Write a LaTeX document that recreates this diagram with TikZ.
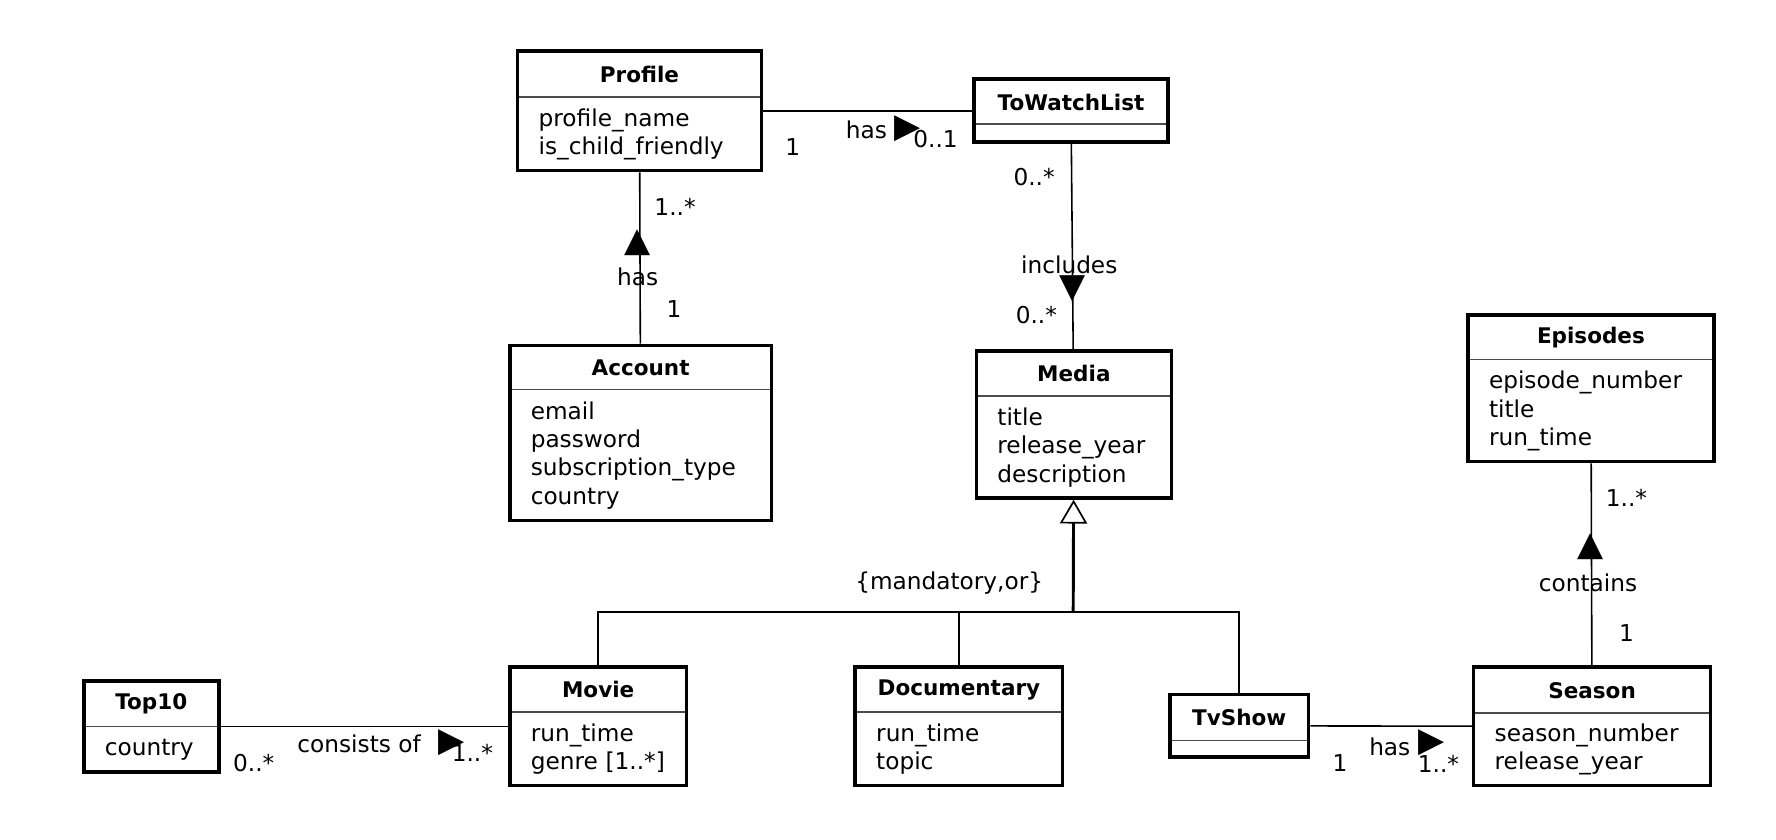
\documentclass[tikz,border=0pt]{standalone}
\usepackage{fontspec}
\setmainfont{DejaVu Sans}
\usetikzlibrary{positioning,fit,arrows.meta}

\begin{document}
\begin{tikzpicture}[
    x=1pt, y=1pt,
    classhead/.style={draw=black!70, line width=1.2pt, anchor=north west, inner sep=0pt, font=\fontsize{19}{23}\selectfont\bfseries},
    classbody/.style={inner xsep=18pt, inner ysep=0pt, align=left, font=\fontsize{20.5}{25}\selectfont},
    classframe/.style={draw, line width=3.2pt, inner sep=0pt},
    assoc/.style={draw, line width=1.4pt},
    genline/.style={draw, line width=2.6pt, -{Triangle[open, length=21pt, width=24pt, line width=1.5pt]}},
    lbl/.style={inner sep=0pt, font=\fontsize{20.5}{25}\selectfont},
    dirmark/.style={inner sep=0pt, font=\fontsize{30}{30}\selectfont}
]
\useasboundingbox (0,0) rectangle (1568,-741.6);

% Profile and account side
\node[classhead, minimum width=214pt, minimum height=40pt] (profhead) at (457,-45) {Profile};
\node[classbody, text width=178pt, minimum height=64pt, below=0pt of profhead] (profattr) {profile\_name\\is\_child\_friendly};
\node[classframe, fit=(profhead)(profattr)] (profile) {};

\node[classhead, minimum width=170pt, minimum height=39pt] (watchhead) at (860,-70) {ToWatchList};
\node[classbody, text width=134pt, minimum height=15pt, below=0pt of watchhead] (watchattr) {};
\node[classframe, fit=(watchhead)(watchattr)] (towatch) {};

\node[classhead, minimum width=230pt, minimum height=38pt] (acchead) at (450,-305) {Account};
\node[classbody, text width=194pt, minimum height=115pt, below=0pt of acchead] (accattr) {email\\password\\subscription\_type\\country};
\node[classframe, fit=(acchead)(accattr)] (account) {};

% Media and subclasses
\node[classhead, minimum width=171pt, minimum height=39pt] (mediahead) at (862,-310) {Media};
\node[classbody, text width=135pt, minimum height=89pt, below=0pt of mediahead] (mediaattr) {title\\release\_year\\description};
\node[classframe, fit=(mediahead)(mediaattr)] (media) {};

\node[classhead, minimum width=155pt, minimum height=39pt] (moviehead) at (450,-589) {Movie};
\node[classbody, text width=119pt, minimum height=64pt, below=0pt of moviehead] (movieattr) {run\_time\\genre [1..*]};
\node[classframe, fit=(moviehead)(movieattr)] (movie) {};

\node[classhead, minimum width=182pt, minimum height=39pt] (dochead) at (755,-589) {Documentary};
\node[classbody, text width=146pt, minimum height=64pt, below=0pt of dochead] (docattr) {run\_time\\topic};
\node[classframe, fit=(dochead)(docattr)] (documentary) {};

\node[classhead, minimum width=121pt, minimum height=40pt] (tvhead) at (1033,-613) {TvShow};
\node[classbody, text width=85pt, minimum height=14pt, below=0pt of tvhead] (tvattr) {};
\node[classframe, fit=(tvhead)(tvattr)] (tvshow) {};

% Top10, seasons and episodes
\node[classhead, minimum width=118pt, minimum height=40pt] (tophead) at (74,-601) {Top10};
\node[classbody, text width=82pt, minimum height=39pt, below=0pt of tophead] (topattr) {country};
\node[classframe, fit=(tophead)(topattr)] (top10) {};

\node[classhead, minimum width=208pt, minimum height=40pt] (seasonhead) at (1301,-589) {Season};
\node[classbody, text width=172pt, minimum height=63pt, below=0pt of seasonhead] (seasonattr) {season\_number\\release\_year};
\node[classframe, fit=(seasonhead)(seasonattr)] (season) {};

\node[classhead, minimum width=216pt, minimum height=39pt] (episodehead) at (1296,-278) {Episodes};
\node[classbody, text width=180pt, minimum height=89pt, below=0pt of episodehead] (episodeattr) {episode\_number\\title\\run\_time};
\node[classframe, fit=(episodehead)(episodeattr)] (episodes) {};

% Associations
\draw[assoc] (profile) -- (towatch);
\draw[assoc] (account) -- (profile);
\draw[assoc] (towatch) -- (media);
\draw[assoc] (season) -- (episodes);
\draw[assoc] (top10) -- (movie);
\draw[assoc] (tvshow) -- (season);

% Generalization
\coordinate (split) at (947.5,-540);
\draw[genline] (split) -- (media);
\draw[assoc, line width=1.8pt] (movie) |- (split) -| (tvshow);
\draw[assoc, line width=1.8pt] (documentary) -- (documentary |- split);
\node[lbl] (constraint) at (838,-515) {\{mandatory,or\}};

% Association labels
\node[lbl] (pw1) at (700,-130) {1};
\node[lbl] (pwname) at (765,-115) {has};
\node[lbl] (pw2) at (826,-123) {0..1};
\node[dirmark] (pwdir) at (801,-114) {▶};

\node[lbl] (ap1) at (596,-183) {1..*};
\node[dirmark] (apdir) at (563,-214) {▲};
\node[lbl] (apname) at (563,-244) {has};
\node[lbl] (ap2) at (595,-273) {1};

\node[lbl] (wm1) at (913,-156) {0..*};
\node[lbl] (wmname) at (944,-234) {includes};
\node[dirmark] (wmdir) at (947,-255) {▼};
\node[lbl] (wm2) at (915,-278) {0..*};

\node[lbl] (se1) at (1436,-440) {1..*};
\node[dirmark] (sedir) at (1404,-483) {▲};
\node[lbl] (sename) at (1402,-515) {contains};
\node[lbl] (se2) at (1436,-559) {1};

\node[lbl] (tm1) at (224,-674) {0..*};
\node[lbl] (tmname) at (317,-657) {consists of};
\node[dirmark] (tmdir) at (399,-656) {▶};
\node[lbl] (tm2) at (417,-665) {1..*};

\node[lbl] (ts1) at (1183,-674) {1};
\node[lbl] (tsname) at (1227,-659) {has};
\node[dirmark] (tsdir) at (1264,-656) {▶};
\node[lbl] (ts2) at (1270,-674) {1..*};

\end{tikzpicture}
\end{document}
